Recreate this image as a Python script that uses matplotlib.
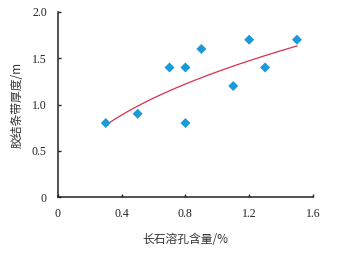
import numpy as np
import matplotlib
matplotlib.use("Agg")
import matplotlib.pyplot as plt

# 长石溶孔含量 (%) vs 胶结条带厚度 (m)
feldspar = [0.3, 0.5, 0.7, 0.8, 0.8, 0.9, 1.1, 1.2, 1.3, 1.5]
thickness = [0.8, 0.9, 1.4, 1.4, 0.8, 1.6, 1.2, 1.7, 1.4, 1.7]

xticks = [0, 0.4, 0.8, 1.2, 1.6]
xtick_labels = ["0", "0.4", "0.8", "1.2", "1.6"]
yticks = [0, 0.5, 1.0, 1.5, 2.0]
ytick_labels = ["0", "0.5", "1.0", "1.5", "2.0"]

num_font = "Liberation Serif"
cjk_font = ["Noto Sans CJK SC", "DejaVu Sans"]

fig = plt.figure(figsize=(3.39, 2.54), dpi=100)
ax = fig.add_axes([0.171, 0.224, 0.752, 0.729])

# power trend line fitted to the points (like Excel's power trendline)
b, loga = np.polyfit(np.log(feldspar), np.log(thickness), 1)
t = np.linspace(min(feldspar), max(feldspar), 100)
ax.plot(t, np.exp(loga) * t ** b, color="#d9304c", lw=0.9, zorder=2)

ax.scatter(feldspar, thickness, marker="D", s=26, color="#1b9ad8",
           edgecolors="none", zorder=3)

ax.set_xlim(0, 1.6)
ax.set_ylim(0, 2.0)
ax.set_xticks(xticks)
ax.set_xticklabels(xtick_labels, fontfamily=num_font, fontsize=8.5)
ax.set_yticks(yticks)
ax.set_yticklabels(ytick_labels, fontfamily=num_font, fontsize=8.5)
ax.tick_params(direction="in", length=2.5, width=1, colors="#222222")
ax.tick_params(axis="x", pad=8)
ax.tick_params(axis="y", pad=8)

for side in ["top", "right"]:
    ax.spines[side].set_visible(False)
for side in ["left", "bottom"]:
    ax.spines[side].set_linewidth(1.1)
    ax.spines[side].set_color("#222222")

ax.set_xlabel("长石溶孔含量/%", fontfamily=cjk_font, fontsize=8.5,
              color="#333333", labelpad=9)
ax.set_ylabel("胶结条带厚度/m", fontfamily=cjk_font, fontsize=8.5,
              color="#333333", labelpad=6)

fig.savefig("out.png", dpi=100)
